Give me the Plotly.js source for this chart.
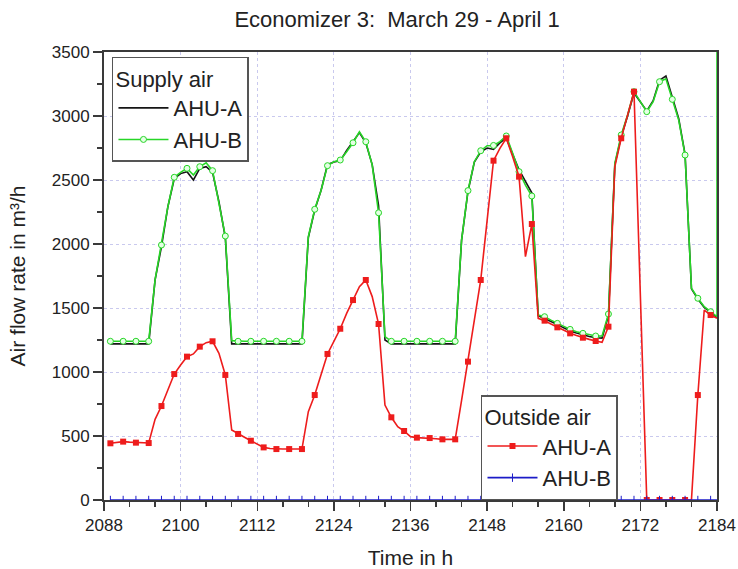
<!DOCTYPE html>
<html>
<head>
<meta charset="utf-8">
<script src="https://cdn.plot.ly/plotly-3.0.1.min.js"></script>
<style>
  html, body { margin: 0; padding: 0; background: #ffffff; }
  #chart { width: 738px; height: 569px; }
</style>
</head>
<body>
<div id="chart"></div>
<script>
// Hour of year, one sample per hour
const hours = [
  2089, 2090, 2091, 2092, 2093, 2094, 2095, 2096, 2097, 2098, 2099, 2100,
  2101, 2102, 2103, 2104, 2105, 2106, 2107, 2108, 2109, 2110, 2111, 2112,
  2113, 2114, 2115, 2116, 2117, 2118, 2119, 2120, 2121, 2122, 2123, 2124,
  2125, 2126, 2127, 2128, 2129, 2130, 2131, 2132, 2133, 2134, 2135, 2136,
  2137, 2138, 2139, 2140, 2141, 2142, 2143, 2144, 2145, 2146, 2147, 2148,
  2149, 2150, 2151, 2152, 2153, 2154, 2155, 2156, 2157, 2158, 2159, 2160,
  2161, 2162, 2163, 2164, 2165, 2166, 2167, 2168, 2169, 2170, 2171, 2172,
  2173, 2174, 2175, 2176, 2177, 2178, 2179, 2180, 2181, 2182, 2183, 2184
];

// Supply air flow, AHU-A (m³/h)
const supplyA = [
  1220, 1220, 1220, 1220, 1220, 1220, 1220, 1719, 1980, 2290, 2510, 2550,
  2565, 2500, 2590, 2604, 2560, 2330, 2050, 1220, 1220, 1220, 1220, 1220,
  1220, 1220, 1220, 1220, 1220, 1220, 1220, 2050, 2265, 2420, 2620, 2640,
  2650, 2730, 2800, 2870, 2790, 2620, 2300, 1250, 1220, 1220, 1220, 1220,
  1220, 1220, 1220, 1220, 1220, 1220, 1220, 2030, 2410, 2640, 2720, 2750,
  2740, 2790, 2830, 2700, 2580, 2490, 2400, 1440, 1420, 1395, 1370, 1345,
  1320, 1305, 1290, 1278, 1268, 1265, 1440, 2620, 2840, 3000, 3180, 3110,
  3040, 3120, 3280, 3312, 3150, 2980, 2700, 1650, 1570, 1505, 1465, 1425
];

// Supply air flow, AHU-B (m³/h)
const supplyB = [
  1240, 1240, 1240, 1240, 1240, 1240, 1240, 1720, 1992, 2290, 2521, 2560,
  2591, 2539, 2604, 2635, 2573, 2318, 2062, 1245, 1240, 1240, 1240, 1240,
  1240, 1240, 1240, 1240, 1240, 1240, 1240, 2057, 2271, 2420, 2612, 2643,
  2656, 2721, 2791, 2877, 2799, 2617, 2244, 1276, 1240, 1240, 1240, 1240,
  1240, 1240, 1240, 1240, 1240, 1240, 1240, 2031, 2417, 2643, 2729, 2768,
  2770, 2800, 2844, 2708, 2565, 2460, 2375, 1445, 1432, 1405, 1380, 1355,
  1333, 1315, 1302, 1290, 1281, 1281, 1453, 2630, 2852, 3008, 3190, 3112,
  3034, 3112, 3268, 3290, 3130, 2969, 2695, 1654, 1576, 1510, 1471, 1432
];
// AHU-B supply log ends with an off-scale reading at the last hour
const supplyBLastHour = [2184];
const supplyBLastValue = [3600];

// Outside air flow, AHU-A (m³/h); null = no sample
const outsideA = [
  443, 450, 456, 452, 448, 446, 445, 630, 734, 859, 984, 1055,
  1120, 1141, 1198, 1229, 1240, 1146, 977, 547, 516, 490, 463, 435,
  411, 402, 398, 398, 398, 398, 398, 690, 820, 980, 1141, 1240,
  1338, 1458, 1562, 1667, 1719, 1589, 1375, 742, 646, 573, 539, 495,
  487, 485, 484, 478, 474, 474, 474, 778, 1081, 1400, 1719, 2185,
  2651, 2747, 2826, 2682, 2526, 1901, 2156, 1419, 1401, 1375, 1349, 1325,
  1302, 1285, 1268, 1255, 1242, 1232, 1354, 2604, 2826, 3000, 3190, null,
  0, 0, 0, 0, 0, 0, 0, 0, 820, 1484, 1445, 1419
];

// Outside air flow, AHU-B (m³/h)
const outsideB = [
  0, 0, 0, 0, 0, 0, 0, 0, 0, 0, 0, 0,
  0, 0, 0, 0, 0, 0, 0, 0, 0, 0, 0, 0,
  0, 0, 0, 0, 0, 0, 0, 0, 0, 0, 0, 0,
  0, 0, 0, 0, 0, 0, 0, 0, 0, 0, 0, 0,
  0, 0, 0, 0, 0, 0, 0, 0, 0, 0, 0, 0,
  0, 0, 0, 0, 0, 0, 0, 0, 0, 0, 0, 0,
  0, 0, 0, 0, 0, 0, 0, 0, 0, 0, 0, 0,
  0, 0, 0, 0, 0, 0, 0, 0, 0, 0, 0, 0
];

const xTickLabels = ['2088', '2100', '2112', '2124', '2136', '2148', '2160', '2172', '2184'];
const xTickValues = [2088, 2100, 2112, 2124, 2136, 2148, 2160, 2172, 2184];

// Symbols are drawn on every second sample (odd hours) only
const CLEAR = 'rgba(0,0,0,0)';
const onOdd = (xs, col) => xs.map(h => (h % 2 === 1 ? col : CLEAR));

const FONT = 'Liberation Sans, Arial, Helvetica, sans-serif';
const GREEN = '#27d627';
const RED = '#ee1c1c';
const BLUE = '#1c1cc8';

const greenX = hours.concat(supplyBLastHour);
const greenY = supplyB.concat(supplyBLastValue);
const greenHasSymbol = greenX.map((h, i) => i < hours.length && h % 2 === 1);

const traces = [
  {
    x: hours, y: supplyA, name: 'AHU-A', type: 'scatter', mode: 'lines',
    line: { color: '#151515', width: 1.6 },
    legend: 'legend'
  },
  {
    x: greenX, y: greenY, name: 'AHU-B', type: 'scatter', mode: 'lines+markers',
    line: { color: GREEN, width: 1.6 },
    marker: {
      symbol: 'circle', size: 6,
      color: greenHasSymbol.map(s => (s ? '#e4ffe4' : CLEAR)),
      line: { width: 1, color: greenHasSymbol.map(s => (s ? GREEN : CLEAR)) }
    },
    legend: 'legend'
  },
  {
    x: hours, y: outsideA, name: 'AHU-A', type: 'scatter', mode: 'lines+markers',
    connectgaps: true,
    line: { color: RED, width: 1.6 },
    marker: {
      symbol: 'square', size: 6,
      color: onOdd(hours, RED),
      line: { width: 0, color: onOdd(hours, RED) }
    },
    legend: 'legend2'
  },
  {
    x: hours, y: outsideB, name: 'AHU-B', type: 'scatter', mode: 'lines+markers',
    line: { color: BLUE, width: 1.6 },
    marker: {
      symbol: 'line-ns', size: 6,
      color: onOdd(hours, BLUE),
      line: { width: 1, color: onOdd(hours, BLUE) }
    },
    legend: 'legend2'
  }
];

const axisCommon = {
  showline: true, linecolor: '#3a3a3a', linewidth: 2, mirror: true,
  ticks: 'outside', ticklen: 9, tickwidth: 1.5, tickcolor: '#3a3a3a',
  showgrid: true, gridcolor: '#c9c9ee', griddash: 'dot', gridwidth: 1,
  zeroline: false,
  tickfont: { family: FONT, size: 17, color: '#222' }
};

const legendCommon = {
  xanchor: 'left', yanchor: 'top',
  bgcolor: '#ffffff', bordercolor: '#555', borderwidth: 1.5,
  font: { family: FONT, size: 22, color: '#222' },
  itemwidth: 50,
  tracegroupgap: 0
};

const layout = {
  width: 738, height: 569,
  paper_bgcolor: '#ffffff', plot_bgcolor: '#ffffff',
  margin: { l: 104, r: 21, t: 52, b: 69, pad: 0 },
  font: { family: FONT, color: '#222' },
  title: {
    text: 'Economizer 3:  March 29 - April 1',
    font: { family: FONT, size: 22, color: '#222' },
    xref: 'container', x: 0.538, xanchor: 'center',
    yref: 'container', y: 1 - 19 / 569, yanchor: 'middle'
  },
  xaxis: Object.assign({}, axisCommon, {
    range: [2088, 2184],
    tickmode: 'array', tickvals: xTickValues, ticktext: xTickLabels,
    minor: { dtick: 4, tick0: 2088, ticks: 'outside', ticklen: 5, tickwidth: 1.5, tickcolor: '#3a3a3a', showgrid: false },
    title: { text: 'Time in h', font: { family: FONT, size: 21, color: '#222' }, standoff: 16 }
  }),
  yaxis: Object.assign({}, axisCommon, {
    range: [0, 3500], dtick: 500, tick0: 0,
    minor: { dtick: 250, tick0: 0, ticks: 'outside', ticklen: 5, tickwidth: 1.5, tickcolor: '#3a3a3a', showgrid: false },
    title: { text: 'Air flow rate in m³/h', font: { family: FONT, size: 21, color: '#222' }, standoff: 20 }
  }),
  legend: Object.assign({}, legendCommon, {
    x: 0.013, y: 0.989,
    title: { text: 'Supply air', font: { family: FONT, size: 22, color: '#222' } }
  }),
  legend2: Object.assign({}, legendCommon, {
    x: 0.615, y: 0.234,
    title: { text: 'Outside air', font: { family: FONT, size: 22, color: '#222' } }
  }),
  showlegend: true
};

Plotly.newPlot('chart', traces, layout, { displayModeBar: false, staticPlot: true });
</script>
</body>
</html>
